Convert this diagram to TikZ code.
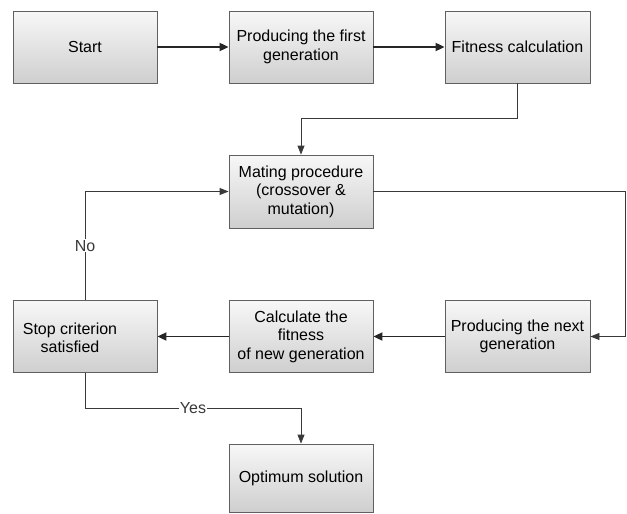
\documentclass[tikz,border=0pt]{standalone}
\usepackage{fontspec}
\setmainfont{Liberation Sans}
\usetikzlibrary{arrows.meta}
\begin{document}
\begin{tikzpicture}[x=1pt,y=-1pt,
  box/.style={draw=gray!75!black, line width=0.8pt, top color=gray!6, bottom color=gray!38,
    minimum width=144pt, minimum height=72pt, inner sep=2pt, align=center,
    font=\fontsize{16}{18.5}\selectfont},
  txt/.style={align=center, inner sep=0pt, font=\fontsize{16}{18.5}\selectfont},
  bolder/.style={-{Triangle[length=9pt,width=8pt]}, line width=1.8pt, black!85},
  thinner/.style={-{Triangle[length=9pt,width=7pt]}, line width=0.8pt, gray!45!black},
  lbl/.style={fill=white, inner sep=1pt, font=\fontsize{16}{18.5}\selectfont}]
\useasboundingbox (0,0) rectangle (627,514);
\node[box] (start) at (85,47) {Start};
\node[box] (gen1) at (301,47) {Producing the first\\generation};
\node[box, minimum width=145pt] (fit) at (517.5,47) {Fitness calculation};
\node[box, minimum height=73pt] (mate) at (301,191.5) {Mating procedure\\(crossover \&\\mutation)};
\node[box] (stop) at (85,336.5) {};
\node[txt] (stoptxt) at (70,338) {Stop criterion\\satisfied};
\node[box] (calc) at (301,336.5) {Calculate the\\fitness\\of new generation};
\node[box, minimum width=145pt] (next) at (517.5,336.5) {Producing the next\\generation};
\node[box, minimum height=68pt] (opt) at (301,478) {Optimum solution};
\coordinate (rt) at (625,191);
\draw[bolder] (start) -- (gen1);
\draw[bolder] (gen1) -- (fit);
\draw[thinner] (fit.south) -- ++(0,35) -| (mate.north);
\draw[thinner] (mate.east |- rt) -- (rt) |- (next.east);
\draw[bolder] (next) -- (calc);
\draw[bolder] (calc) -- (stop);
\draw[thinner] (stop.north) |- node[lbl, pos=0.25] {No} (mate.west);
\draw[thinner] (stop.south) -- ++(0,35) -| node[lbl, pos=0.25] {Yes} (opt.north);
\end{tikzpicture}
\end{document}
